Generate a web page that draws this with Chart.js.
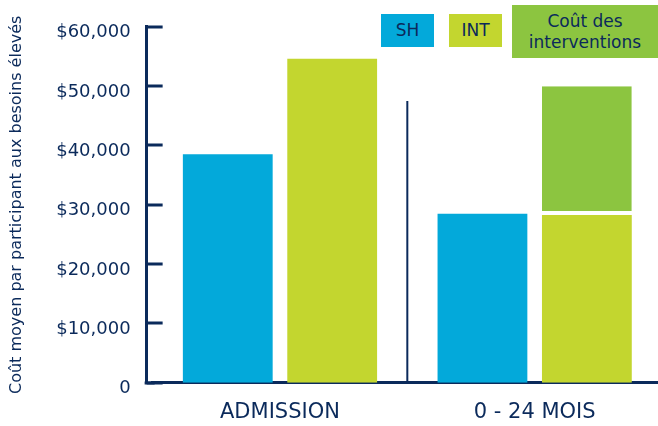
<!DOCTYPE html>
<html>
<head>
<meta charset="utf-8">
<script src="https://cdn.jsdelivr.net/npm/chart.js@4/dist/chart.umd.min.js"></script>
<style>
  html, body { margin: 0; padding: 0; background: #ffffff; overflow: hidden; }
  #wrap { position: relative; width: 658px; height: 426px; overflow: hidden; }
  #chart { position: absolute; left: 0; top: 0; }
  .key {
    position: absolute; color: #0b2a5b; font-family: "DejaVu Sans", sans-serif;
    font-size: 17px; display: flex; align-items: center; justify-content: center;
    text-align: center; line-height: 21px;
  }
</style>
</head>
<body>
<div id="wrap">
  <canvas id="chart" width="658" height="426"></canvas>
  <div class="key" style="left:381px;top:14px;width:53px;height:33px;background:#03a9da;">SH</div>
  <div class="key" style="left:449px;top:14px;width:53px;height:33px;background:#c3d62f;">INT</div>
  <div class="key" style="left:512px;top:5px;width:146px;height:53px;background:#8cc540;">Coût des<br>interventions</div>
</div>
<script>
// Average cost per high-needs participant, by period
const categories = ['ADMISSION', '0 - 24 MOIS'];
const shValues = [38500, 28500];
const intValues = [54600, 28300];
const interventionCost = [null, 21700];
const yTicks = [0, 10000, 20000, 30000, 40000, 50000, 60000];
const dividerTop = 47500;

const NAVY = '#0b2a5b';
const BLUE = '#03a9da';
const LIME = '#c3d62f';
const GREEN = '#8cc540';

// Category band starts a little right of the value axis and runs to the edge
const bandInset = {
  id: 'bandInset',
  afterLayout(chart) {
    const x = chart.scales.x;
    x.left = chart.chartArea.left + 6;
    x.right = chart.chartArea.right + 4;
    x.width = x.right - x.left;
    x.configure();
  }
};

// Tick marks pointing into the plot, and the divider between the two periods
const axisDecor = {
  id: 'axisDecor',
  afterDraw(chart) {
    const { ctx, chartArea, scales } = chart;
    const y = scales.y, x = scales.x;
    ctx.save();
    ctx.strokeStyle = NAVY;
    ctx.lineWidth = 3;
    const base = Math.round(y.getPixelForValue(0));
    ctx.beginPath();
    ctx.moveTo(chartArea.left - 2, base);
    ctx.lineTo(x.left + 2, base);
    ctx.stroke();
    yTicks.forEach(v => {
      const py = Math.round(y.getPixelForValue(v));
      ctx.beginPath();
      ctx.moveTo(chartArea.left, py);
      ctx.lineTo(chartArea.left + 16, py);
      ctx.stroke();
    });
    const mid = (x.getPixelForValue(0) + x.getPixelForValue(1)) / 2;
    ctx.lineWidth = 2;
    ctx.beginPath();
    ctx.moveTo(mid, y.getPixelForValue(dividerTop));
    ctx.lineTo(mid, y.getPixelForValue(0));
    ctx.stroke();
    ctx.restore();
  }
};

new Chart(document.getElementById('chart'), {
  type: 'bar',
  data: {
    labels: categories,
    datasets: [
      { label: 'SH', data: shValues, backgroundColor: BLUE, stack: 'sh' },
      { label: 'INT', data: intValues, backgroundColor: LIME, stack: 'int' },
      {
        label: 'Coût des interventions', data: interventionCost, backgroundColor: GREEN, stack: 'int',
        borderColor: '#ffffff', borderWidth: { top: 0, right: 0, bottom: 4, left: 0 }, borderSkipped: false
      }
    ]
  },
  options: {
    responsive: false,
    animation: false,
    categoryPercentage: 0.82,
    barPercentage: 0.86,
    layout: { padding: { top: 25, left: 7, right: 0, bottom: -16 } },
    plugins: { legend: { display: false }, tooltip: { enabled: false } },
    scales: {
      x: {
        stacked: true,
        grid: { display: false, drawTicks: false },
        border: { display: true, color: NAVY, width: 3 },
        ticks: { color: NAVY, padding: 17, font: { family: 'DejaVu Sans', size: 21 } }
      },
      y: {
        stacked: true,
        min: 0, max: 60000,
        afterBuildTicks(scale) { scale.ticks = yTicks.map(v => ({ value: v })); },
        grid: { display: false, drawTicks: false },
        border: { display: true, color: NAVY, width: 3 },
        ticks: {
          color: NAVY, padding: 16, labelOffset: 6,
          font: { family: 'DejaVu Sans', size: 18 },
          callback: v => v === 0 ? '0' : '$' + v.toLocaleString('en-US')
        },
        title: {
          display: true,
          text: 'Coût moyen par participant aux besoins élevés',
          color: NAVY,
          font: { family: 'DejaVu Sans', size: 16 },
          padding: { top: 0, bottom: 14 }
        }
      }
    }
  },
  plugins: [bandInset, axisDecor]
});
</script>
</body>
</html>
